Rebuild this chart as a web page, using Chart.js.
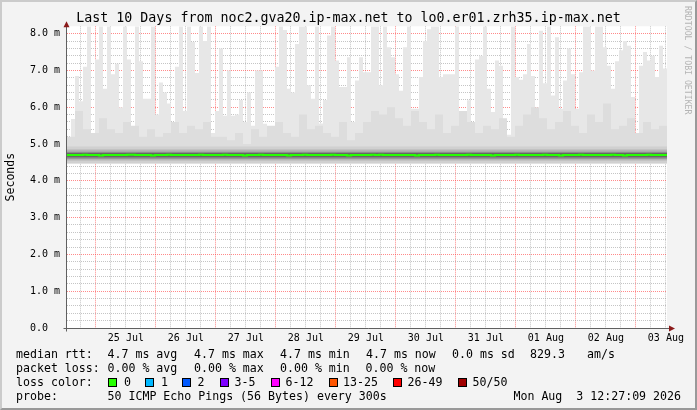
<!DOCTYPE html>
<html>
<head>
<meta charset="utf-8">
<title>Last 10 Days from noc2.gva20.ip-max.net to lo0.er01.zrh35.ip-max.net</title>
<script src="https://cdn.jsdelivr.net/npm/chart.js@4.4.1/dist/chart.umd.min.js"></script>
<style>
  html, body { margin: 0; padding: 0; background: #f3f3f3; }
  #graph { position: relative; width: 697px; height: 410px; overflow: hidden; font-family: 'DejaVu Sans Mono', monospace; color: #000; }
  #graph canvas { position: absolute; left: 0; top: 0; }
  .frame { position: absolute; left: 0; top: 0; width: 697px; height: 410px; box-sizing: border-box;
           border-top: 2px solid #cbcbcb; border-left: 2px solid #cbcbcb;
           border-right: 2px solid #999; border-bottom: 2px solid #999; pointer-events: none; }
  .credit { position: absolute; left: 692.5px; top: 6px; transform-origin: 0 0; transform: rotate(90deg);
            font-size: 8.2px; line-height: 10px; color: #b4b4b4; white-space: pre; }
  .leg { position: absolute; font-size: 11.6px; line-height: 14px; white-space: pre; }
  .box { position: absolute; width: 7px; height: 7px; border: 1px solid #000; }
</style>
</head>
<body>
<div id="graph">
  <canvas id="smoke" width="697" height="410"></canvas>
  <div class="frame"></div>
  <div class="credit">RRDTOOL / TOBI OETIKER</div>

  <div class="leg" style="left:16px;top:347px">median rtt:</div>
  <div class="leg" style="left:107.5px;top:347px">4.7 ms avg</div>
  <div class="leg" style="left:194px;top:347px">4.7 ms max</div>
  <div class="leg" style="left:280px;top:347px">4.7 ms min</div>
  <div class="leg" style="left:366px;top:347px">4.7 ms now</div>
  <div class="leg" style="left:452px;top:347px">0.0 ms sd</div>
  <div class="leg" style="left:530px;top:347px">829.3</div>
  <div class="leg" style="left:587px;top:347px">am/s</div>

  <div class="leg" style="left:16px;top:361px">packet loss:</div>
  <div class="leg" style="left:107.5px;top:361px">0.00 % avg</div>
  <div class="leg" style="left:194px;top:361px">0.00 % max</div>
  <div class="leg" style="left:280px;top:361px">0.00 % min</div>
  <div class="leg" style="left:365.5px;top:361px">0.00 % now</div>

  <div class="leg" style="left:16px;top:375px">loss color:</div>
  <div class="box" style="left:108px;top:378px;background:#26ff00"></div>
  <div class="leg" style="left:124px;top:375px">0</div>
  <div class="box" style="left:145px;top:378px;background:#00b8ff"></div>
  <div class="leg" style="left:161px;top:375px">1</div>
  <div class="box" style="left:182px;top:378px;background:#0059ff"></div>
  <div class="leg" style="left:197.5px;top:375px">2</div>
  <div class="box" style="left:219.5px;top:378px;background:#7e00ff"></div>
  <div class="leg" style="left:234.5px;top:375px">3-5</div>
  <div class="box" style="left:270.5px;top:378px;background:#ff00ff"></div>
  <div class="leg" style="left:285.5px;top:375px">6-12</div>
  <div class="box" style="left:329px;top:378px;background:#ff5500"></div>
  <div class="leg" style="left:343px;top:375px">13-25</div>
  <div class="box" style="left:393px;top:378px;background:#ff0000"></div>
  <div class="leg" style="left:407.5px;top:375px">26-49</div>
  <div class="box" style="left:458px;top:378px;background:#a10000"></div>
  <div class="leg" style="left:472.5px;top:375px">50/50</div>

  <div class="leg" style="left:16px;top:389px">probe:</div>
  <div class="leg" style="left:107.5px;top:389px">50 ICMP Echo Pings (56 Bytes) every 300s</div>
  <div class="leg" style="right:16px;top:389px">Mon Aug  3 12:27:09 2026</div>
</div>

<script>
// time is in hours since 24 Jul 00:00; the graph covers 24 Jul 12:27 .. 03 Aug 12:27
const START_H = 12.45;
const END_H = 252.45;
const COL_H = 1.6;          // one smoke column = 96 minutes
const UPPER_COL_H = 3.2;

// highest ping per column (ms), clipped at the top of the graph
const maxRtt = [
  5.15, 5.68, 6.85, 6.16, 7.1, 8.2, 5.3, 7.3, 8.2, 6.5,
  8.2, 6.9, 7.18, 6.0, 8.2, 7.3, 5.25, 8.2, 7.25, 6.23,
  6.23, 8.2, 5.8, 6.67, 6.4, 6.1, 5.15, 7.1, 8.2, 5.9,
  8.2, 7.77, 6.93, 8.2, 7.8, 8.2, 5.3,
  5.9, 7.6, 5.77, 7.0, 5.77, 5.8, 6.2, 5.6, 6.4, 5.5,
  7.0, 7.0, 5.55, 5.4, 5.4, 7.1, 8.2, 8.1, 6.5, 6.4,
  7.72, 8.2, 8.2, 6.6, 6.23, 8.2, 5.56, 6.2, 7.95, 8.2,
  7.27, 6.55, 6.55, 7.36, 5.6, 6.73, 7.36, 6.95,
  6.95, 8.2, 8.2, 6.6, 8.2, 7.63, 7.36, 6.9, 6.45, 7.63,
  8.2, 5.96, 5.96, 6.82, 7.8, 8.12, 8.2, 8.2, 6.82, 6.9,
  6.9, 6.9, 8.2, 5.78, 5.78, 6.19, 5.5, 7.3, 7.4, 8.2,
  6.5, 5.87, 7.27, 7.13, 5.3, 5.25, 8.2,
  6.82, 6.75, 6.9, 7.72, 6.85, 5.96, 8.08, 6.65, 8.2, 6.32,
  7.9, 5.96, 6.73, 7.6, 6.9, 5.96, 6.95, 8.2, 8.2, 7.0,
  8.2, 8.2, 7.63, 7.13, 6.5, 7.25, 7.55, 7.8, 7.67, 6.28,
  5.25, 7.13, 7.5, 7.27, 7.4, 6.82, 7.67, 7.05
];

// denser upper smoke, coarser columns
const upperSmoke = [
  5.2, 5.9, 5.4, 5.3, 5.7, 5.4, 5.3, 5.6, 5.5, 5.2, 5.4, 5.2, 5.3, 5.6, 5.3, 5.5, 5.4, 5.6, 5.2,
  5.2, 5.1, 5.3, 5.0, 5.4, 5.2, 5.5, 5.6, 5.3, 5.2, 5.8, 5.4, 5.5, 5.3, 5.2, 5.6, 5.1, 5.3,
  5.6, 5.9, 5.8, 6.0, 5.7, 5.5, 5.9, 5.6, 5.4, 5.8, 5.3, 5.5, 5.9, 5.6, 5.3, 5.5, 5.4, 5.7, 5.2,
  5.5, 5.8, 6.0, 5.7, 5.4, 5.6, 5.9, 5.5, 5.3, 5.8, 5.6, 6.1, 5.4, 5.5, 5.7, 5.3, 5.6, 5.4, 5.5
];

// median rtt per column (ms)
const medianRtt = [
  4.70, 4.70, 4.70, 4.70, 4.71, 4.70, 4.70, 4.70, 4.69, 4.70,
  4.70, 4.70, 4.70, 4.70, 4.70, 4.71, 4.71, 4.70, 4.70, 4.70,
  4.70, 4.69, 4.70, 4.70, 4.70, 4.71, 4.70, 4.70, 4.70, 4.70,
  4.70, 4.70, 4.70, 4.71, 4.70, 4.70, 4.70, 4.70, 4.70, 4.71,
  4.70, 4.70, 4.70, 4.70, 4.69, 4.70, 4.70, 4.70, 4.71, 4.70,
  4.70, 4.70, 4.70, 4.70, 4.70, 4.69, 4.70, 4.70, 4.70, 4.71,
  4.70, 4.70, 4.70, 4.70, 4.70, 4.70, 4.71, 4.70, 4.70, 4.70,
  4.69, 4.70, 4.70, 4.70, 4.70, 4.70, 4.71, 4.70, 4.71, 4.70,
  4.70, 4.70, 4.70, 4.70, 4.70, 4.70, 4.70, 4.69, 4.70, 4.70,
  4.70, 4.70, 4.71, 4.70, 4.70, 4.70, 4.70, 4.70, 4.70, 4.70,
  4.71, 4.70, 4.70, 4.70, 4.70, 4.70, 4.69, 4.70, 4.70, 4.70,
  4.70, 4.70, 4.71, 4.70, 4.70, 4.70, 4.70, 4.70, 4.70, 4.71,
  4.70, 4.70, 4.70, 4.69, 4.70, 4.70, 4.70, 4.70, 4.71, 4.70,
  4.70, 4.70, 4.70, 4.70, 4.70, 4.70, 4.71, 4.70, 4.70, 4.69,
  4.70, 4.70, 4.70, 4.70, 4.70, 4.71, 4.70, 4.70, 4.70, 4.70
];

// dense smoke around the median: band top / bottom (ms), outer to inner
const bandTop = [4.93, 4.85, 4.79, 4.755];
const bandBottom = [4.48, 4.55, 4.60, 4.64];
const smokeFloor = 4.47;

// x axis: grid every 6 h, red line at midnight, label at noon
const gridHours = [18, 24, 30, 36, 42, 48, 54, 60, 66, 72, 78, 84, 90, 96, 102, 108, 114, 120,
  126, 132, 138, 144, 150, 156, 162, 168, 174, 180, 186, 192, 198, 204, 210, 216, 222, 228,
  234, 240, 246, 252];
const labelHours = [36, 60, 84, 108, 132, 156, 180, 204, 228, 252];
const dayLabels = ['25 Jul', '26 Jul', '27 Jul', '28 Jul', '29 Jul', '30 Jul', '31 Jul', '01 Aug', '02 Aug', '03 Aug'];

const MONO = "'DejaVu Sans Mono', monospace";
const MINOR_GRID = 'rgba(140, 140, 140, 0.5)';
const MAJOR_GRID = 'rgba(255, 60, 60, 0.6)';
const NONE = 'rgba(0, 0, 0, 0)';

function toSteps(values, colHours) {
  const pts = values.map((v, i) => ({ x: START_H + i * colHours, y: v }));
  pts.push({ x: END_H, y: values[values.length - 1] });
  return pts;
}

const bandColors = ['#d0d0d0', '#b4b4b4', '#8c8c8c', '#666666'];

const datasets = [
  {
    label: 'max',
    data: toSteps(maxRtt, COL_H),
    stepped: 'before',
    borderColor: NONE,
    borderWidth: 0,
    backgroundColor: '#e7e7e7',
    fill: { value: smokeFloor },
    pointRadius: 0,
    order: 10
  },
  {
    label: 'upper',
    data: toSteps(upperSmoke, UPPER_COL_H),
    stepped: 'before',
    borderColor: NONE,
    borderWidth: 0,
    backgroundColor: '#dddddd',
    fill: { value: smokeFloor },
    pointRadius: 0,
    order: 9
  }
];

bandTop.forEach((top, i) => {
  datasets.push({
    label: 'band' + i,
    data: [{ x: START_H, y: top }, { x: END_H, y: top }],
    borderColor: NONE,
    borderWidth: 0,
    backgroundColor: bandColors[i],
    fill: { value: bandBottom[i] },
    pointRadius: 0,
    order: 8 - i
  });
});

datasets.push({
  label: 'median rtt',
  data: toSteps(medianRtt, COL_H),
  stepped: 'before',
  borderColor: '#26ff00',
  borderWidth: 2,
  fill: false,
  pointRadius: 0,
  order: 1
});

// white canvas behind the plot + rrdtool style axes with arrows
const rrdFrame = {
  id: 'rrdFrame',
  beforeDraw(chart) {
    const { ctx, chartArea: a } = chart;
    ctx.save();
    ctx.fillStyle = '#ffffff';
    ctx.fillRect(a.left, a.top, a.right - a.left, a.bottom - a.top);
    ctx.restore();
  },
  afterDraw(chart) {
    const { ctx, chartArea: a } = chart;
    const x0 = Math.round(a.left) - 0.5;
    const y0 = Math.round(a.bottom) + 0.5;
    ctx.save();
    ctx.strokeStyle = '#606060';
    ctx.lineWidth = 1;
    ctx.beginPath();
    ctx.moveTo(x0 - 3, y0);
    ctx.lineTo(a.right + 6, y0);
    ctx.moveTo(x0, y0 + 3);
    ctx.lineTo(x0, a.top - 3);
    ctx.stroke();
    ctx.fillStyle = '#8b1a1a';
    ctx.beginPath();
    ctx.moveTo(x0, a.top - 5);
    ctx.lineTo(x0 - 3, a.top + 1);
    ctx.lineTo(x0 + 3, a.top + 1);
    ctx.closePath();
    ctx.fill();
    ctx.beginPath();
    ctx.moveTo(a.right + 8, y0);
    ctx.lineTo(a.right + 2, y0 - 3);
    ctx.lineTo(a.right + 2, y0 + 3);
    ctx.closePath();
    ctx.fill();
    ctx.restore();
  }
};

new Chart(document.getElementById('smoke'), {
  type: 'line',
  data: { datasets },
  options: {
    responsive: false,
    animation: false,
    devicePixelRatio: 1,
    layout: { padding: 0 },
    plugins: {
      legend: { display: false },
      tooltip: { enabled: false },
      title: {
        display: true,
        text: 'Last 10 Days from noc2.gva20.ip-max.net to lo0.er01.zrh35.ip-max.net',
        color: '#000',
        font: { family: MONO, size: 13.3, weight: 'normal', lineHeight: 1 },
        padding: { top: 12, bottom: 1 }
      }
    },
    scales: {
      x: {
        type: 'linear',
        min: START_H,
        max: END_H,
        z: 1,
        afterBuildTicks: (scale) => { scale.ticks = gridHours.map(h => ({ value: h })); },
        // keep 30px free on the right for the arrow, without shifting the title
        afterFit: (scale) => { scale.height = 82; scale.paddingLeft = 0; scale.paddingRight = 30; },
        grid: {
          drawTicks: false,
          lineWidth: 1,
          color: (c) => (c.tick && Math.round(c.tick.value) % 24 === 0 ? MAJOR_GRID : MINOR_GRID)
        },
        border: { display: false, dash: [1, 1] },
        ticks: {
          autoSkip: false,
          maxRotation: 0,
          padding: 4,
          color: '#000',
          font: { family: MONO, size: 10 },
          callback: (v) => {
            const i = labelHours.indexOf(v);
            return i >= 0 ? dayLabels[i] : '';
          }
        }
      },
      y: {
        type: 'linear',
        min: 0,
        max: 8.2,
        z: 1,
        afterFit: (scale) => { scale.width = 67; scale.paddingTop = 0; scale.paddingBottom = 0; },
        grid: {
          drawTicks: false,
          lineWidth: 1,
          color: (c) => {
            const v = c.tick ? c.tick.value : 0;
            if (v <= 0.001 || v >= 8.19) return NONE;
            return Math.abs(v - Math.round(v)) < 1e-6 ? MAJOR_GRID : MINOR_GRID;
          }
        },
        border: { display: false, dash: [1, 1] },
        title: {
          display: true,
          text: 'Seconds',
          color: '#000',
          font: { family: MONO, size: 11.5 },
          padding: { top: 4, bottom: 0 }
        },
        ticks: {
          stepSize: 0.2,
          maxTicksLimit: 100,
          autoSkip: false,
          padding: 7,
          color: '#000',
          font: { family: MONO, size: 10 },
          callback: (v) => {
            if (Math.abs(v - Math.round(v)) > 1e-6 || v > 8.1) return '';
            return v === 0 ? '0.0  ' : v.toFixed(1) + ' m';
          }
        }
      }
    }
  },
  plugins: [rrdFrame]
});
</script>
</body>
</html>
